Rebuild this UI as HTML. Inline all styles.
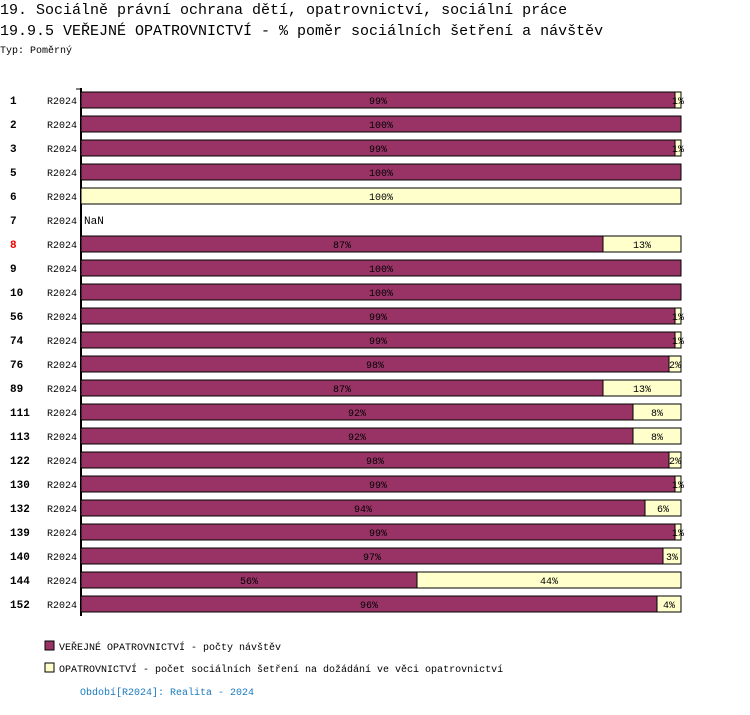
<!DOCTYPE html>
<html><head><meta charset="utf-8"><style>
body{margin:0;background:#fff;width:750px;height:710px;overflow:hidden;font-family:"Liberation Mono","DejaVu Sans Mono",monospace}
svg text{font-family:"Liberation Mono","DejaVu Sans Mono",monospace}
</style></head><body>
<svg id="c" width="750" height="710">
<text x="0" y="14" font-size="15">19. Sociálně právní ochrana dětí, opatrovnictví, sociální práce</text>
<text x="0" y="35" font-size="15">19.9.5 VEŘEJNÉ OPATROVNICTVÍ - % poměr sociálních šetření a návštěv</text>
<text x="0" y="53" font-size="10">Typ: Poměrný</text>
<line x1="81" y1="88" x2="81" y2="616" stroke="#000" stroke-width="2"/>
<line x1="76" y1="89" x2="81" y2="89" stroke="#000" stroke-width="1"/>
<g id="bars"></g>
<rect x="45" y="641" width="9" height="9" fill="#993366" stroke="#000"/>
<text x="59" y="650" font-size="10">VEŘEJNÉ OPATROVNICTVÍ - počty návštěv</text>
<rect x="45" y="663" width="9" height="9" fill="#ffffcc" stroke="#000"/>
<text x="59" y="672" font-size="10">OPATROVNICTVÍ - počet sociálních šetření na dožádání ve věci opatrovnictví</text>
<text x="80" y="695" font-size="10" fill="#1a7abf">Období[R2024]: Realita - 2024</text>
</svg>
<script>
const categories=["1","2","3","5","6","7","8","9","10","56","74","76","89","111","113","122","130","132","139","140","144","152"];
const seriesA=[99,100,99,100,0,null,87,100,100,99,99,98,87,92,92,98,99,94,99,97,56,96];
const seriesB=[1,0,1,0,100,null,13,0,0,1,1,2,13,8,8,2,1,6,1,3,44,4];
const highlighted=["8"];
const NS="http://www.w3.org/2000/svg";
const g=document.getElementById('bars');
const x0=81,W=600,y0=100,step=24,bh=16;
const xs=v=>x0+v/100*W;
const ys=i=>y0+i*step;
function mk(t,a){const e=document.createElementNS(NS,t);for(const k in a)e.setAttribute(k,a[k]);g.appendChild(e);return e;}
categories.forEach((c,i)=>{
  const y=ys(i);
  const l=mk('text',{x:10,y:y+4,'font-size':11,'font-weight':'bold',fill:highlighted.includes(c)?'#e00':'#000'});
  l.textContent=c;
  
  
  const p=mk('text',{x:47,y:y+4,'font-size':10});
  p.textContent="R2024";
  
  
  const a=seriesA[i],b=seriesB[i];
  if(a===null){const n=mk('text',{x:84,y:y+4,'font-size':11});n.textContent="NaN";
    
    return;}
  const tot=a+b;
  const wa=a/tot*100;
  if(a>0){
    const r=mk('rect',{x:xs(0),y:y-bh/2,width:xs(wa)-xs(0),height:bh,fill:'#993366',stroke:'#000','stroke-width':1});
    
    
    const t=mk('text',{x:(xs(0)+xs(wa))/2,y:y+4,'font-size':10,'text-anchor':'middle'});t.textContent=a+'%';
    
    
  }
  if(b>0){
    const r=mk('rect',{x:xs(wa),y:y-bh/2,width:xs(100)-xs(wa),height:bh,fill:'#ffffcc',stroke:'#000','stroke-width':1});
    
    
    const t=mk('text',{x:(xs(wa)+xs(100))/2,y:y+4,'font-size':10,'text-anchor':'middle'});t.textContent=b+'%';
    
    
  }
});
</script>
</body></html>
